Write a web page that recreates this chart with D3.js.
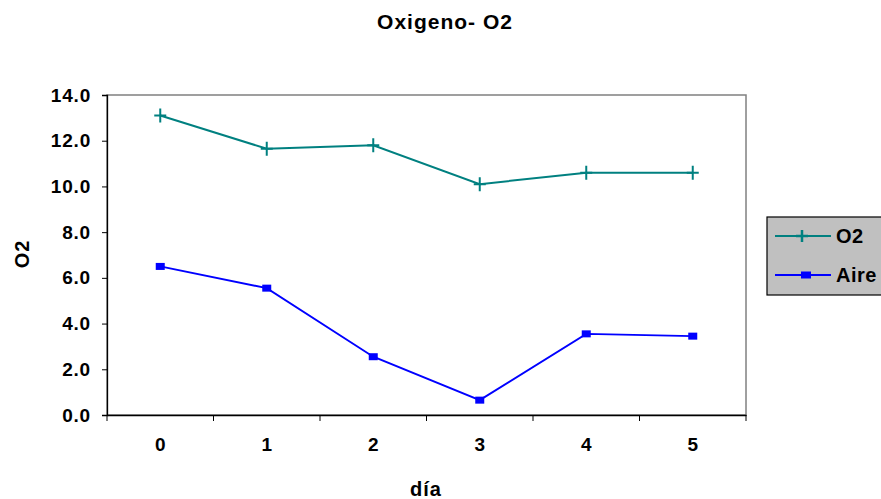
<!DOCTYPE html>
<html>
<head>
<meta charset="utf-8">
<script src="https://cdn.jsdelivr.net/npm/d3@7"></script>
<style>
  body { margin: 0; background: #fff; }
  text { font-family: "Liberation Sans", Arial, sans-serif; font-weight: bold; fill: #000; }
</style>
</head>
<body>
<div id="chart"></div>
<script>
// chart data
var dias = ["0", "1", "2", "3", "4", "5"];
var o2Values = [13.1, 11.65, 11.8, 10.1, 10.6, 10.6];
var aireValues = [6.5, 5.55, 2.55, 0.65, 3.55, 3.45];
var yTicks = [0, 2, 4, 6, 8, 10, 12, 14];

var width = 881, height = 499,
    margin = { top: 95, right: 135, bottom: 84, left: 107 };

var svg = d3.select("#chart").append("svg")
    .attr("width", width)
    .attr("height", height);

var x = d3.scaleBand()
    .domain(dias)
    .range([margin.left, width - margin.right]);

var y = d3.scaleLinear()
    .domain([0, 14])
    .range([height - margin.bottom, margin.top]);

// plot frame (grey top/right)
svg.append("rect")
    .attr("x", margin.left)
    .attr("y", margin.top)
    .attr("width", x.range()[1] - margin.left)
    .attr("height", y(0) - margin.top)
    .attr("fill", "#fff")
    .attr("stroke", "#808080")
    .attr("stroke-width", 1.5);

var yAxis = d3.axisLeft(y)
    .tickValues(yTicks)
    .tickSize(5)
    .tickPadding(11)
    .tickFormat(d3.format(".1f"));

svg.append("g")
    .attr("transform", `translate(${margin.left},0)`)
    .call(yAxis)
    .call(g => g.select(".domain").attr("stroke-width", 1.3))
    .selectAll("text")
    .style("font-size", "19px")
    .style("letter-spacing", "0.8px");

var xAxis = d3.axisBottom(x)
    .tickSize(0)
    .tickPadding(23);

var gx = svg.append("g")
    .attr("transform", `translate(0,${y(0)})`)
    .call(xAxis);
gx.select(".domain").attr("stroke-width", 1.3);
gx.selectAll("text").style("font-size", "19px");

// ticks between categories
var bounds = dias.map(d => x(d)).concat([x.range()[1]]);
gx.selectAll("line.sep")
    .data(bounds)
    .enter()
    .append("line")
    .attr("class", "sep")
    .attr("x1", d => d).attr("x2", d => d)
    .attr("y1", 0).attr("y2", 6)
    .attr("stroke", "#000");

var line = d3.line()
    .x((d, i) => x(dias[i]) + x.bandwidth() / 2)
    .y(d => y(d));

// O2 series
svg.append("path")
    .datum(o2Values)
    .attr("fill", "none")
    .attr("stroke", "#008080")
    .attr("stroke-width", 2)
    .attr("d", line);

svg.selectAll("path.cross")
    .data(o2Values)
    .enter()
    .append("path")
    .attr("class", "cross")
    .attr("transform", (d, i) => `translate(${x(dias[i]) + x.bandwidth() / 2},${y(d)})`)
    .attr("d", "M-6,0H6M0,-7V7")
    .attr("stroke", "#008080")
    .attr("stroke-width", 2);

// Aire series
svg.append("path")
    .datum(aireValues)
    .attr("fill", "none")
    .attr("stroke", "#0000ff")
    .attr("stroke-width", 1.9)
    .attr("d", line);

svg.selectAll("rect.sq")
    .data(aireValues)
    .enter()
    .append("rect")
    .attr("class", "sq")
    .attr("x", (d, i) => x(dias[i]) + x.bandwidth() / 2 - 4.5)
    .attr("y", d => y(d) - 3.5)
    .attr("width", 9)
    .attr("height", 7)
    .attr("fill", "#0000ff");

// titles
svg.append("text")
    .attr("x", 445)
    .attr("y", 29)
    .attr("text-anchor", "middle")
    .style("font-size", "21px")
    .style("letter-spacing", "1px")
    .text("Oxigeno- O2");

svg.append("text")
    .attr("x", 426)
    .attr("y", 496)
    .attr("text-anchor", "middle")
    .style("font-size", "20px")
    .style("letter-spacing", "1px")
    .text("día");

svg.append("text")
    .attr("transform", "translate(29,254) rotate(-90)")
    .attr("text-anchor", "middle")
    .style("font-size", "20px")
    .style("letter-spacing", "1px")
    .text("O2");

// legend
var legend = svg.append("g").attr("transform", "translate(767,217)");
legend.append("rect")
    .attr("width", 125)
    .attr("height", 78)
    .attr("fill", "#c0c0c0")
    .attr("stroke", "#000")
    .attr("stroke-width", 1.2);

legend.append("line")
    .attr("x1", 8).attr("x2", 64).attr("y1", 19).attr("y2", 19)
    .attr("stroke", "#008080").attr("stroke-width", 2);
legend.append("path")
    .attr("d", "M29,19H41M35,13V25")
    .attr("stroke", "#008080").attr("stroke-width", 2.5);
legend.append("text")
    .attr("x", 69).attr("y", 26)
    .style("font-size", "20px")
    .style("letter-spacing", "0.5px")
    .text("O2");

legend.append("line")
    .attr("x1", 8).attr("x2", 64).attr("y1", 58).attr("y2", 58)
    .attr("stroke", "#0000ff").attr("stroke-width", 1.9);
legend.append("rect")
    .attr("x", 34).attr("y", 54.5).attr("width", 10).attr("height", 7)
    .attr("fill", "#0000ff");
legend.append("text")
    .attr("x", 69).attr("y", 65)
    .style("font-size", "20px")
    .style("letter-spacing", "0.5px")
    .text("Aire");
</script>
</body>
</html>
